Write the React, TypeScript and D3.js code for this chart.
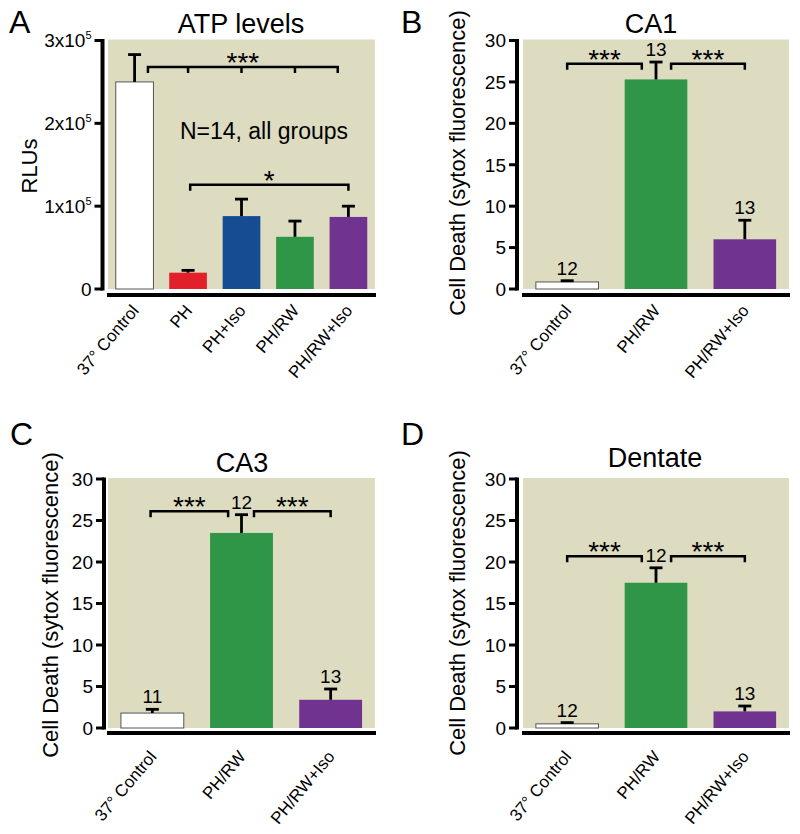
import React from "react";
import * as d3 from "d3";

// ---------- Data ----------
const atpGroups = ["37° Control", "PH", "PH+Iso", "PH/RW", "PH/RW+Iso"];
const atpMean = [250000, 19700, 88000, 63000, 87000];
const atpSem = [33000, 2800, 20500, 19000, 13000];
const atpTicks = [0, 100000, 200000, 300000];

const deathGroups = ["37° Control", "PH/RW", "PH/RW+Iso"];
const deathTicks = [0, 5, 10, 15, 20, 25, 30];

const ca1Mean = [0.85, 25.3, 6.0];
const ca1Sem = [0.15, 2.1, 2.3];
const ca1N = ["12", "13", "13"];

const ca3Mean = [1.8, 23.5, 3.4];
const ca3Sem = [0.45, 2.2, 1.3];
const ca3N = ["11", "12", "13"];

const dgMean = [0.5, 17.5, 2.0];
const dgSem = [0.15, 1.8, 0.65];
const dgN = ["12", "12", "13"];

type Bracket = { x0: number; x1: number; drops: number[]; y: number; label: string };

const atpBrackets: Bracket[] = [
  { x0: 0.25, x1: 3.8, drops: [1, 2, 3], y: 268000, label: "***" },
  { x0: 1.04, x1: 4, drops: [], y: 126000, label: "*" },
];
const ca1Brackets: Bracket[] = [
  { x0: 0, x1: 0.84, drops: [], y: 27.2, label: "***" },
  { x0: 1.17, x1: 2, drops: [], y: 27.2, label: "***" },
];
const ca3Brackets: Bracket[] = [
  { x0: -0.02, x1: 0.85, drops: [], y: 26.1, label: "***" },
  { x0: 1.14, x1: 2, drops: [], y: 26.1, label: "***" },
];
const dgBrackets: Bracket[] = [
  { x0: 0, x1: 0.84, drops: [], y: 20.7, label: "***" },
  { x0: 1.17, x1: 2, drops: [], y: 20.7, label: "***" },
];

// ---------- Styles ----------
const FONT = "'Liberation Sans', Arial, Helvetica, sans-serif";
const BG = "#dddcc0";
const atpColors = ["#ffffff", "#e2202a", "#154c92", "#2f9547", "#70338f"];
const deathColors = ["#ffffff", "#2f9547", "#70338f"];

type Geo = {
  plotX0: number; plotX1: number; yTop: number; yZero: number;
  axisX: number; xAxisY: number; labelY: number;
};

type PanelProps = {
  geo: Geo;
  groups: string[];
  mean: number[];
  sem: number[];
  nLabels?: string[];
  colors: string[];
  ticks: number[];
  domain: [number, number];
  tickRender: (v: number) => React.ReactNode;
  brackets: Bracket[];
  letter: string; letterX: number; letterY: number;
  title: string; titleX: number; titleY: number;
  yLabel: string; yLabelX: number; yLabelY: number;
  children?: React.ReactNode;
};

function Panel(p: PanelProps) {
  const g = p.geo;
  const x = d3.scaleBand<string>().domain(p.groups).range([g.plotX0, g.plotX1])
    .paddingInner(0.295).paddingOuter(0.145);
  const y = d3.scaleLinear().domain(p.domain).range([g.yZero, g.yTop]);
  const bw = x.bandwidth();
  const step = x.step();
  const c0 = (x(p.groups[0]) ?? 0) + bw / 2;
  const pos = (i: number) => c0 + i * step;
  const drop = 6;

  return (
    <g>
      <text x={p.letterX} y={p.letterY} fontSize={32} fontFamily={FONT}>{p.letter}</text>
      <text x={p.titleX} y={p.titleY} fontSize={27} fontFamily={FONT} textAnchor="middle">{p.title}</text>
      <rect x={g.plotX0} y={g.yTop - 1} width={g.plotX1 - g.plotX0} height={g.yZero - g.yTop + 1} fill={BG} />
      {/* y axis */}
      <line x1={g.axisX} x2={g.axisX} y1={g.yTop - 1.5} y2={g.yZero + 1.5} stroke="#000" strokeWidth={4} />
      {p.ticks.map((t) => (
        <g key={t}>
          <line x1={g.axisX - 8} x2={g.axisX} y1={y(t)} y2={y(t)} stroke="#000" strokeWidth={3} />
          <text x={g.axisX - 11} y={y(t)} dy="0.36em" textAnchor="end" fontSize={19} fontFamily={FONT}>
            {p.tickRender(t)}
          </text>
        </g>
      ))}
      {/* x axis */}
      <line x1={g.plotX0 - 1} x2={g.plotX1 + 1} y1={g.xAxisY} y2={g.xAxisY} stroke="#000" strokeWidth={4} />
      {/* bars */}
      {p.groups.map((grp, i) => {
        const x0 = x(grp) ?? 0;
        const top = y(p.mean[i]);
        const white = p.colors[i] === "#ffffff";
        return (
          <rect key={grp} x={x0} y={top} width={bw} height={g.yZero - top}
            fill={p.colors[i]} stroke={white ? "#555" : "none"} strokeWidth={white ? 1 : 0} />
        );
      })}
      {/* error bars */}
      {p.groups.map((grp, i) => {
        const cx = (x(grp) ?? 0) + bw / 2;
        const top = y(p.mean[i]);
        const et = y(p.mean[i] + p.sem[i]);
        return (
          <g key={grp} stroke="#000" strokeWidth={2.8}>
            <line x1={cx} x2={cx} y1={top} y2={et} />
            <line x1={cx - 6.5} x2={cx + 6.5} y1={et} y2={et} />
          </g>
        );
      })}
      {/* n labels */}
      {p.nLabels && p.groups.map((grp, i) => {
        const cx = (x(grp) ?? 0) + bw / 2;
        const et = y(p.mean[i] + p.sem[i]);
        return (
          <text key={grp} x={cx} y={et - 6} textAnchor="middle" fontSize={19} fontFamily={FONT}>
            {p.nLabels![i]}
          </text>
        );
      })}
      {/* brackets */}
      {p.brackets.map((b, k) => {
        const yb = y(b.y);
        const xa = pos(b.x0);
        const xb = pos(b.x1);
        return (
          <g key={k}>
            <path d={`M${xa},${yb + drop}V${yb}H${xb}V${yb + drop}`} fill="none" stroke="#000" strokeWidth={2.5} />
            {b.drops.map((d) => (
              <line key={d} x1={pos(d)} x2={pos(d)} y1={yb} y2={yb + drop} stroke="#000" strokeWidth={2.5} />
            ))}
            <text x={(xa + xb) / 2} y={yb + 5} textAnchor="middle" fontSize={28} fontFamily={FONT}>{b.label}</text>
          </g>
        );
      })}
      {/* x labels */}
      {p.groups.map((grp) => {
        const cx = (x(grp) ?? 0) + bw / 2;
        return (
          <text key={grp} transform={`translate(${cx + 5},${g.labelY}) rotate(-50)`} textAnchor="end"
            fontSize={17} fontFamily={FONT}>{grp}</text>
        );
      })}
      {/* y label */}
      <text transform={`translate(${p.yLabelX},${p.yLabelY}) rotate(-90)`} textAnchor="middle"
        fontSize={22} fontFamily={FONT}>{p.yLabel}</text>
      {p.children}
    </g>
  );
}

const sciTick = (v: number) =>
  v === 0 ? "0" : (
    <>
      {`${v / 100000}x10`}
      <tspan fontSize={11} dy={-8}>5</tspan>
    </>
  );
const plainTick = (v: number) => `${v}`;

export default function App() {
  const geoA: Geo = { plotX0: 108, plotX1: 375, yTop: 40.5, yZero: 289, axisX: 102.5, xAxisY: 295, labelY: 311 };
  const geoB: Geo = { plotX0: 523, plotX1: 789, yTop: 40.5, yZero: 289, axisX: 517, xAxisY: 295, labelY: 311 };
  const geoC: Geo = { plotX0: 108, plotX1: 375, yTop: 479, yZero: 728, axisX: 104, xAxisY: 733, labelY: 757 };
  const geoD: Geo = { plotX0: 523, plotX1: 789, yTop: 479, yZero: 728, axisX: 517, xAxisY: 733, labelY: 757 };
  const yl = "Cell Death (sytox fluorescence)";
  return (
    <svg width={800} height={834} style={{ position: "absolute", left: 0, top: 0, background: "#fff" }}>
      <Panel geo={geoA} groups={atpGroups} mean={atpMean} sem={atpSem} colors={atpColors}
        ticks={atpTicks} domain={[0, 300000]} tickRender={sciTick} brackets={atpBrackets}
        letter="A" letterX={9} letterY={33} title="ATP levels" titleX={241} titleY={33}
        yLabel="RLUs" yLabelX={37} yLabelY={166}>
        <text x={264} y={139} textAnchor="middle" fontSize={23} fontFamily={FONT}>N=14, all groups</text>
      </Panel>
      <Panel geo={geoB} groups={deathGroups} mean={ca1Mean} sem={ca1Sem} nLabels={ca1N} colors={deathColors}
        ticks={deathTicks} domain={[0, 30]} tickRender={plainTick} brackets={ca1Brackets}
        letter="B" letterX={401} letterY={33} title="CA1" titleX={651} titleY={33}
        yLabel={yl} yLabelX={465} yLabelY={163} />
      <Panel geo={geoC} groups={deathGroups} mean={ca3Mean} sem={ca3Sem} nLabels={ca3N} colors={deathColors}
        ticks={deathTicks} domain={[0, 30]} tickRender={plainTick} brackets={ca3Brackets}
        letter="C" letterX={10} letterY={445} title="CA3" titleX={242} titleY={472}
        yLabel={yl} yLabelX={58} yLabelY={605} />
      <Panel geo={geoD} groups={deathGroups} mean={dgMean} sem={dgSem} nLabels={dgN} colors={deathColors}
        ticks={deathTicks} domain={[0, 30]} tickRender={plainTick} brackets={dgBrackets}
        letter="D" letterX={401} letterY={445} title="Dentate" titleX={655} titleY={467}
        yLabel={yl} yLabelX={465} yLabelY={603} />
    </svg>
  );
}
